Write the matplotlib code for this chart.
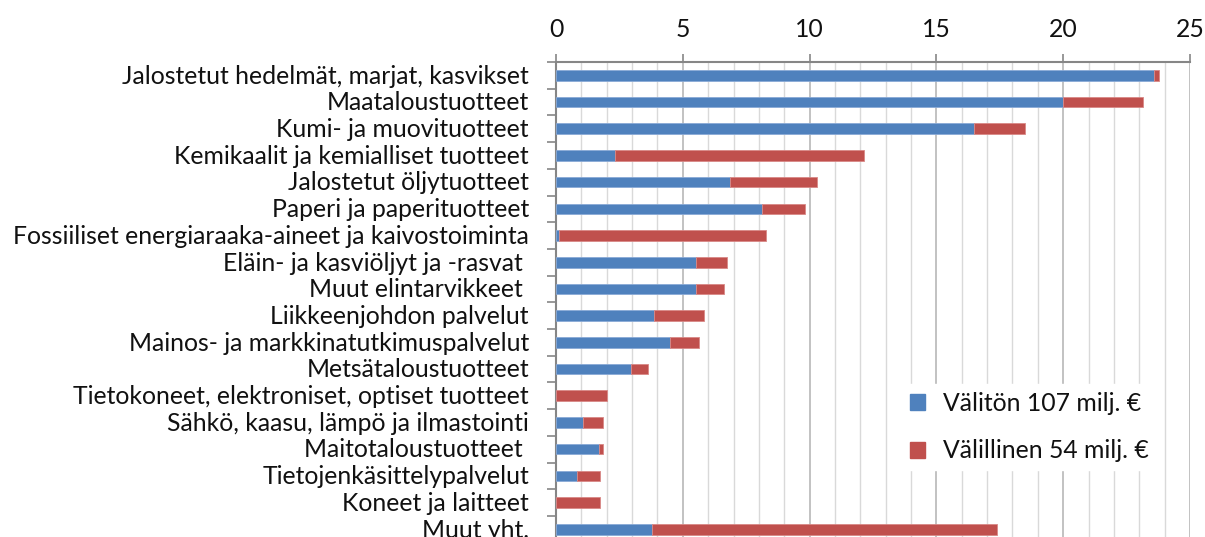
import matplotlib
matplotlib.use("Agg")
import matplotlib.pyplot as plt
from matplotlib.ticker import MultipleLocator
from matplotlib.patches import Patch

categories = [
    "Jalostetut hedelmät, marjat, kasvikset",
    "Maataloustuotteet",
    "Kumi- ja muovituotteet",
    "Kemikaalit ja kemialliset tuotteet",
    "Jalostetut öljytuotteet",
    "Paperi ja paperituotteet",
    "Fossiiliset energiaraaka-aineet ja kaivostoiminta",
    "Eläin- ja kasviöljyt ja -rasvat ",
    "Muut elintarvikkeet ",
    "Liikkeenjohdon palvelut",
    "Mainos- ja markkinatutkimuspalvelut",
    "Metsätaloustuotteet",
    "Tietokoneet, elektroniset, optiset tuotteet",
    "Sähkö, kaasu, lämpö ja ilmastointi",
    "Maitotaloustuotteet ",
    "Tietojenkäsittelypalvelut",
    "Koneet ja laitteet",
    "Muut yht.",
]
valiton = [23.6, 20.0, 16.5, 2.32, 6.86, 8.14, 0.13, 5.51, 5.51, 3.86, 4.49,
           2.96, 0.0, 1.08, 1.71, 0.84, 0.0, 3.80]
valillinen = [0.17, 3.15, 2.0, 9.84, 3.42, 1.66, 8.15, 1.23, 1.12, 1.98, 1.16,
              0.67, 2.0, 0.79, 0.15, 0.91, 1.75, 13.59]
legend_labels = ["Välitön 107 milj. €", "Välillinen 54 milj. €"]
xticks = [0, 5, 10, 15, 20, 25]

BLUE = "#4F81BD"
RED = "#C0504D"
FONT = "Lato"
FS = 17.8

plt.rcParams['font.family'] = [FONT, 'DejaVu Sans']

fig = plt.figure(figsize=(12.05, 5.37), dpi=100)
W, H = 1205, 537
x0, x1 = 556, 1190
ytop, ybot = 62, 542.6
ax = fig.add_axes([x0 / W, (H - ybot) / H, (x1 - x0) / W, (ybot - ytop) / H])

ypos = list(range(len(categories)))
ax.barh(ypos, valiton, height=0.4, color=BLUE, edgecolor="#8aaad6", linewidth=0.6, zorder=3)
ax.barh(ypos, valillinen, left=valiton, height=0.4, color=RED, edgecolor="#d98886",
        linewidth=0.6, zorder=3)

ax.set_ylim(len(categories) - 0.5, -0.5)
ax.set_xlim(0, 25)

ax.set_yticks([y + 0.5 for y in ypos[:-1]] + [-0.5])
ax.set_yticklabels([])
ax.yaxis.set_ticks_position('left')
for y, lab in zip(ypos, categories):
    ax.text(-27 / 25.36, y + 0.03, lab, ha='right', va='center', fontsize=FS,
            color='#111111', transform=ax.transData)

ax.xaxis.tick_top()
ax.set_xticks(xticks)
ax.set_xticklabels([str(t) for t in xticks], fontsize=FS, color='#111111')
ax.xaxis.set_minor_locator(MultipleLocator(1))
ax.tick_params(axis='x', which='major', length=5.8, width=1.2, color='#868686', pad=9)
ax.tick_params(axis='x', which='minor', length=0)
ax.tick_params(axis='y', which='major', length=6.5, width=1.2, color='#868686')

ax.grid(axis='x', which='major', color='#b8b8b8', linewidth=1.2, zorder=0)
ax.grid(axis='x', which='minor', color='#d9d9d9', linewidth=1.0, zorder=0)
ax.set_axisbelow(True)

for s in ['right', 'bottom']:
    ax.spines[s].set_visible(False)
for s in ['top', 'left']:
    ax.spines[s].set_color('#868686')
    ax.spines[s].set_linewidth(1.5)

handles = [Patch(facecolor=BLUE, edgecolor=BLUE), Patch(facecolor=RED, edgecolor=RED)]
leg = ax.legend(handles, legend_labels, loc='upper left',
                bbox_to_anchor=((890 - x0) / (x1 - x0), 1 - (372 - ytop) / (ybot - ytop)),
                frameon=True, fontsize=FS, handlelength=0.62, handleheight=0.62,
                labelspacing=1.0, handletextpad=0.72, borderpad=0.3, fancybox=False)
leg.get_frame().set_facecolor('white')
leg.get_frame().set_edgecolor('white')
leg.get_frame().set_alpha(1)
leg.set_zorder(5)
for t in leg.get_texts():
    t.set_color('#111111')

fig.savefig("out.png", dpi=100)
